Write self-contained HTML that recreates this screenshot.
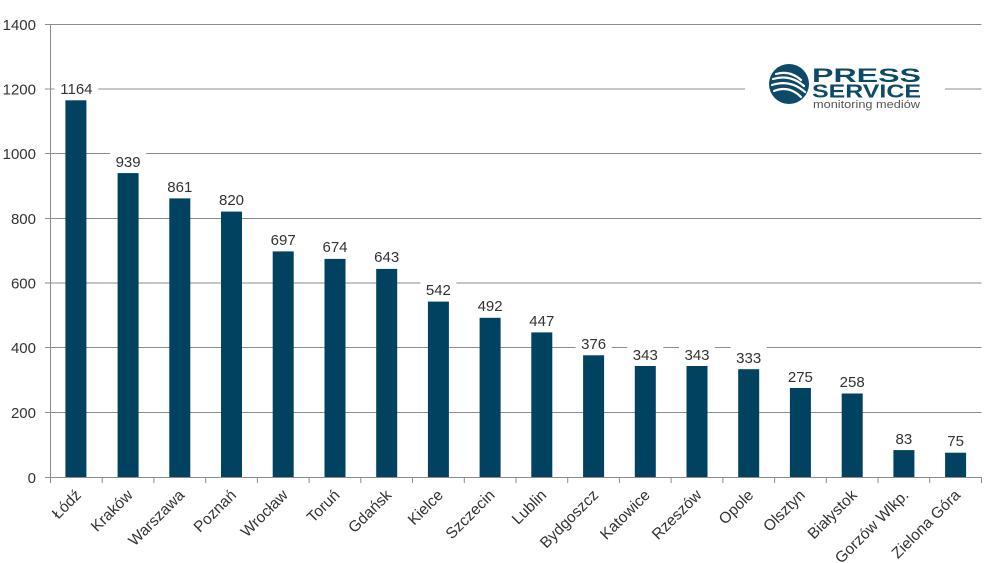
<!DOCTYPE html>
<html><head><meta charset="utf-8"><style>
html,body{margin:0;padding:0;background:#fff}
svg{display:block}
text{font-family:"Liberation Sans",sans-serif;fill:#333}
</style></head><body>
<svg width="1004" height="563" viewBox="0 0 1004 563" xmlns="http://www.w3.org/2000/svg">
<g stroke="#8c8c8c" stroke-width="1">
<line x1="45" y1="24.5" x2="981.5" y2="24.5"/>
<line x1="45" y1="89" x2="981.5" y2="89"/>
<line x1="45" y1="153.5" x2="981.5" y2="153.5"/>
<line x1="45" y1="218.5" x2="981.5" y2="218.5"/>
<line x1="45" y1="283" x2="981.5" y2="283"/>
<line x1="45" y1="347.5" x2="981.5" y2="347.5"/>
<line x1="45" y1="412.5" x2="981.5" y2="412.5"/>
<line x1="45" y1="477.5" x2="981.5" y2="477.5"/>
<line x1="50.5" y1="24" x2="50.5" y2="477"/>
</g>
<g stroke="#8c8c8c">
<line x1="50.5" y1="477" x2="50.5" y2="483"/><line x1="102.2" y1="477" x2="102.2" y2="483"/><line x1="153.9" y1="477" x2="153.9" y2="483"/><line x1="205.7" y1="477" x2="205.7" y2="483"/><line x1="257.4" y1="477" x2="257.4" y2="483"/><line x1="309.1" y1="477" x2="309.1" y2="483"/><line x1="360.8" y1="477" x2="360.8" y2="483"/><line x1="412.5" y1="477" x2="412.5" y2="483"/><line x1="464.3" y1="477" x2="464.3" y2="483"/><line x1="516" y1="477" x2="516" y2="483"/><line x1="567.7" y1="477" x2="567.7" y2="483"/><line x1="619.4" y1="477" x2="619.4" y2="483"/><line x1="671.1" y1="477" x2="671.1" y2="483"/><line x1="722.9" y1="477" x2="722.9" y2="483"/><line x1="774.6" y1="477" x2="774.6" y2="483"/><line x1="826.3" y1="477" x2="826.3" y2="483"/><line x1="878" y1="477" x2="878" y2="483"/><line x1="929.7" y1="477" x2="929.7" y2="483"/><line x1="981.5" y1="477" x2="981.5" y2="483"/>
</g>
<g font-size="15" text-anchor="end">
<text x="36" y="30">1400</text>
<text x="36" y="94.5">1200</text>
<text x="36" y="159">1000</text>
<text x="36" y="224">800</text>
<text x="36" y="288.5">600</text>
<text x="36" y="353">400</text>
<text x="36" y="418">200</text>
<text x="36" y="483">0</text>
</g>
<g fill="#00425f">
<rect x="65.4" y="100.3" width="21" height="376.7"/>
<rect x="117.6" y="173.1" width="21" height="303.9"/>
<rect x="169.3" y="198.4" width="21" height="278.6"/>
<rect x="221" y="211.6" width="21" height="265.4"/>
<rect x="272.7" y="251.4" width="21" height="225.6"/>
<rect x="324.5" y="258.9" width="21" height="218.1"/>
<rect x="376.2" y="268.9" width="21" height="208.1"/>
<rect x="427.9" y="301.6" width="21" height="175.4"/>
<rect x="479.6" y="317.8" width="21" height="159.2"/>
<rect x="531.3" y="332.4" width="21" height="144.6"/>
<rect x="583.1" y="355.3" width="21" height="121.7"/>
<rect x="634.8" y="366" width="21" height="111"/>
<rect x="686.5" y="366" width="21" height="111"/>
<rect x="738.2" y="369.2" width="21" height="107.8"/>
<rect x="789.9" y="388" width="21" height="89"/>
<rect x="841.7" y="393.5" width="21" height="83.5"/>
<rect x="893.4" y="450.1" width="21" height="26.9"/>
<rect x="945.1" y="452.7" width="21" height="24.3"/>
</g>
<g fill="#fff">
<rect x="54.4" y="78" width="44" height="18"/>
<rect x="110.1" y="151" width="36" height="18"/>
<rect x="161.8" y="176" width="36" height="18"/>
<rect x="213.5" y="189" width="36" height="18"/>
<rect x="265.2" y="229" width="36" height="18"/>
<rect x="317" y="236" width="36" height="18"/>
<rect x="368.7" y="246" width="36" height="18"/>
<rect x="420.4" y="279" width="36" height="18"/>
<rect x="472.1" y="295" width="36" height="18"/>
<rect x="523.8" y="310" width="36" height="18"/>
<rect x="575.6" y="333" width="36" height="18"/>
<rect x="627.3" y="344" width="36" height="18"/>
<rect x="679" y="344" width="36" height="18"/>
<rect x="730.7" y="347" width="36" height="18"/>
</g>
<g font-size="15" text-anchor="middle">
<text x="76.4" y="94">1164</text>
<text x="128.1" y="167">939</text>
<text x="179.8" y="192">861</text>
<text x="231.5" y="205">820</text>
<text x="283.2" y="245">697</text>
<text x="335" y="252">674</text>
<text x="386.7" y="262">643</text>
<text x="438.4" y="295">542</text>
<text x="490.1" y="311">492</text>
<text x="541.8" y="326">447</text>
<text x="593.6" y="349">376</text>
<text x="645.3" y="360">343</text>
<text x="697" y="360">343</text>
<text x="748.7" y="363">333</text>
<text x="800.4" y="382">275</text>
<text x="852.2" y="387">258</text>
<text x="903.9" y="444">83</text>
<text x="955.6" y="446">75</text>
</g>
<g font-size="15.5" text-anchor="end">
<text transform="translate(82,496) rotate(-45)">Łódź</text>
<text transform="translate(133.7,496) rotate(-45)">Kraków</text>
<text transform="translate(185.4,496) rotate(-45)">Warszawa</text>
<text transform="translate(237.1,496) rotate(-45)">Poznań</text>
<text transform="translate(288.8,496) rotate(-45)">Wrocław</text>
<text transform="translate(340.6,496) rotate(-45)">Toruń</text>
<text transform="translate(392.3,496) rotate(-45)">Gdańsk</text>
<text transform="translate(444,496) rotate(-45)">Kielce</text>
<text transform="translate(495.7,496) rotate(-45)">Szczecin</text>
<text transform="translate(547.4,496) rotate(-45)">Lublin</text>
<text transform="translate(599.2,496) rotate(-45)">Bydgoszcz</text>
<text transform="translate(650.9,496) rotate(-45)">Katowice</text>
<text transform="translate(702.6,496) rotate(-45)">Rzeszów</text>
<text transform="translate(754.3,496) rotate(-45)">Opole</text>
<text transform="translate(806,496) rotate(-45)">Olsztyn</text>
<text transform="translate(857.8,496) rotate(-45)">Białystok</text>
<text transform="translate(909.5,496) rotate(-45)">Gorzów Wlkp.</text>
<text transform="translate(961.2,496) rotate(-45)">Zielona Góra</text>
</g>
<rect x="745" y="58" width="200" height="54" fill="#fff"/>
<circle cx="789" cy="84" r="20" fill="#0d4a68"/>
<g stroke="#fff" stroke-width="2.2" fill="none" stroke-linecap="round">
<path d="M776 74 Q790 70 801 80"/>
<path d="M773 79 Q790 74 804 86"/>
<path d="M772 85 Q790 79 805 92"/>
<path d="M774 91 Q789 85 801 97"/>
</g>
<text x="812" y="82" font-size="19" font-weight="bold" style="fill:#0d4a68" textLength="109" lengthAdjust="spacingAndGlyphs">PRESS</text>
<text x="812" y="97.5" font-size="18" font-weight="bold" style="fill:#0d4a68" textLength="109" lengthAdjust="spacingAndGlyphs">SERVICE</text>
<text x="813" y="108" font-size="11" style="fill:#555" textLength="107" lengthAdjust="spacingAndGlyphs">monitoring mediów</text>
</svg>
</body></html>
